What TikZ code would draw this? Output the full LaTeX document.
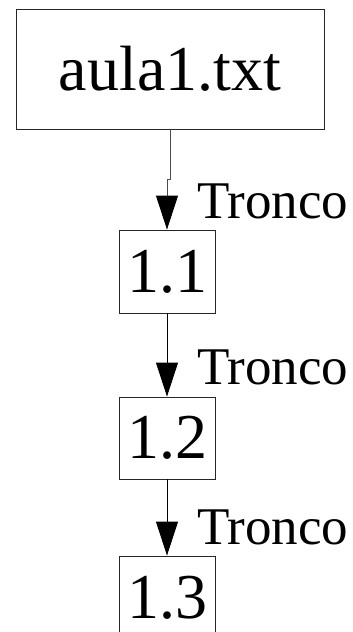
\documentclass[tikz,border=0pt]{standalone}
\usepackage{fontspec}
\newfontfamily\timesfont{LiberationSerif}[Extension=.ttf, UprightFont=*-Regular]
\usetikzlibrary{arrows.meta}
\tikzset{
  box/.style={draw=black!85, line width=0.9pt, inner sep=0pt, font=\timesfont\fontsize{64}{64}\selectfont},
  lbl/.style={inner sep=0pt, anchor=base west, font=\timesfont\fontsize{53}{53}\selectfont},
  edge/.style={draw=black, line width=0.9pt, -{Triangle[width=22pt,length=34pt,color=black]}}
}
\begin{document}
\begin{tikzpicture}[x=1pt,y=-1pt]
\useasboundingbox (0,0) rectangle (353,632);
\clip (0,0) rectangle (353,632);
\node[box, minimum width=308pt, minimum height=120pt] (aula) at (170,69) {aula1.txt};
\node[box, minimum width=96pt, minimum height=83pt] (n11) at (167,271.5) {1.1};
\node[box, minimum width=96pt, minimum height=82pt] (n12) at (167,438) {1.2};
\node[box, minimum width=96pt, minimum height=83pt] (n13) at (167,597.5) {1.3};
\coordinate (bend) at (170,179);
\draw[edge, draw=black!70] (aula.south) -- (bend) -| (n11.north);
\draw[edge] (n11.south) -- (n12.north);
\draw[edge] (n12.south) -- (n13.north);
\node[lbl] (t1) at (197,218) {Tronco};
\node[lbl] (t2) at (197,384) {Tronco};
\node[lbl] (t3) at (197,544) {Tronco};
\end{tikzpicture}
\end{document}
